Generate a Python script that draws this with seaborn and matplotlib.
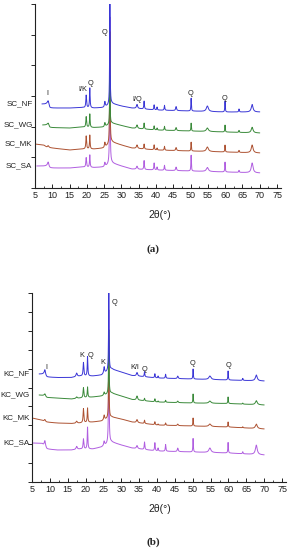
import numpy as np
import pandas as pd
import matplotlib
matplotlib.use("Agg")
import matplotlib.pyplot as plt
import matplotlib.transforms as mtrans
from matplotlib.ticker import MultipleLocator
import seaborn as sns

# ---------------- data ----------------
# Panel (a): SC samples. Intensity in counts (a.u.)
a_samples = ["SC_NF", "SC_WG", "SC_MK", "SC_SA"]
a_start = [7.0, 7.2, 5.0, 5.5]
a_bg_x = {
    "SC_NF": [7.0, 8.4, 9.3, 15, 18.5, 22, 25, 27.2, 30, 33, 40, 50, 60, 70],
    "SC_WG": [7.2, 8.4, 9.3, 15, 18.5, 22, 25, 27.2, 30, 33, 40, 50, 60, 70],
    "SC_MK": [5.0, 7.5, 8.5, 10, 15, 18.5, 22, 25, 27.2, 30, 33, 40, 50, 60, 70],
    "SC_SA": [5.5, 8.3, 9.3, 15, 18.5, 22, 25, 27.2, 30, 33, 40, 50, 60, 70],
}
a_bg_y = {
    "SC_NF": [2738, 2738, 2608, 2608, 2624, 2608, 2624, 2755, 2673, 2608, 2543, 2510, 2478, 2478],
    "SC_WG": [2054, 2054, 1972, 1956, 1989, 1972, 1989, 2119, 2038, 1956, 1891, 1858, 1826, 1793],
    "SC_MK": [1434, 1402, 1320, 1304, 1239, 1271, 1271, 1304, 1500, 1402, 1304, 1239, 1206, 1174, 1141],
    "SC_SA": [717, 717, 652, 652, 685, 668, 685, 815, 717, 619, 587, 554, 522, 489],
}
a_peak_pos = [8.8, 19.8, 20.85, 25.2, 26.65, 34.5, 36.55, 39.45, 40.3, 42.45, 45.8, 50.15, 54.85, 59.95, 64.0, 67.8]
a_peak_w = [0.25, 0.12, 0.10, 0.15, 0.08, 0.2, 0.10, 0.10, 0.10, 0.10, 0.15, 0.08, 0.35, 0.08, 0.10, 0.3]
a_peak_h = {
    "SC_NF": [163, 408, 652, 180, 3400, 130, 260, 163, 98, 163, 130, 424, 180, 359, 98, 245],
    "SC_WG": [98, 342, 440, 130, 1600, 114, 196, 130, 65, 130, 98, 261, 114, 228, 65, 180],
    "SC_MK": [65, 424, 456, 163, 3700, 114, 163, 163, 65, 130, 98, 293, 147, 228, 65, 254],
    "SC_SA": [163, 310, 408, 130, 4865, 98, 293, 228, 98, 163, 114, 522, 130, 326, 65, 320],
}
a_ann_text = ["I", "I/K", "Q", "Q", "I/Q", "Q", "Q"]
a_ann_x = [8.5, 18.7, 21.1, 25.0, 34.5, 50.1, 59.7]
a_ann_y = [3097, 3227, 3423, 5086, 2901, 3097, 2934]

# Panel (b): KC samples
b_samples = ["KC_NF", "KC_WG", "KC_MK", "KC_SA"]
b_start = [7.0, 7.0, 5.0, 5.0]
b_bg_x = {
    "KC_NF": [7.0, 8.2, 9.2, 12, 16, 18.5, 22, 24.5, 27.2, 30, 33, 40, 50, 60, 70],
    "KC_WG": [7.0, 8.2, 9.2, 12, 16, 18.5, 22, 24.5, 27.2, 30, 33, 40, 50, 60, 70],
    "KC_MK": [5.0, 7.5, 9.0, 12, 16, 18.5, 22, 24.5, 27.2, 30, 33, 40, 50, 60, 70],
    "KC_SA": [5.0, 7.8, 9.2, 12, 16, 18.5, 22, 24.5, 27.2, 30, 33, 40, 50, 60, 70],
}
b_bg_y = {
    "KC_NF": [5713, 5713, 5555, 5528, 5528, 5607, 5607, 5660, 5978, 5819, 5634, 5502, 5449, 5396, 5343],
    "KC_WG": [4602, 4576, 4470, 4444, 4391, 4444, 4497, 4549, 4708, 4549, 4364, 4232, 4179, 4153, 4073],
    "KC_MK": [3386, 3280, 3174, 3121, 3095, 3121, 3174, 3227, 3439, 3333, 3174, 3015, 2962, 2910, 2804],
    "KC_SA": [2063, 2037, 1746, 1693, 1693, 1746, 1746, 1852, 2116, 1957, 1799, 1640, 1587, 1534, 1428],
}
b_peak_pos = [8.6, 17.5, 19.4, 20.55, 25.2, 26.5, 34.4, 36.5, 39.4, 40.3, 42.4, 45.8, 50.1, 54.8, 59.9, 64.0, 67.8]
b_peak_w = [0.2, 0.2, 0.12, 0.10, 0.15, 0.08, 0.2, 0.10, 0.10, 0.10, 0.10, 0.15, 0.08, 0.35, 0.08, 0.10, 0.3]
b_peak_h = {
    "KC_NF": [291, 185, 714, 1032, 344, 4300, 185, 265, 212, 106, 212, 132, 529, 185, 476, 106, 307],
    "KC_WG": [132, 79, 529, 555, 159, 3380, 212, 132, 159, 53, 106, 79, 476, 116, 344, 53, 212],
    "KC_MK": [106, 106, 741, 767, 249, 4130, 159, 175, 159, 53, 122, 79, 423, 132, 265, 53, 238],
    "KC_SA": [317, 159, 529, 1164, 227, 7050, 159, 397, 423, 159, 354, 185, 714, 238, 555, 106, 503],
}
b_ann_text = ["I", "K", "Q", "K", "Q", "K/I", "Q", "Q", "Q"]
b_ann_x = [9.1, 19.0, 21.5, 24.9, 28.0, 33.8, 36.6, 49.9, 60.1]
b_ann_y = [6084, 6718, 6718, 6348, 9522, 6084, 5978, 6295, 6189]

colors = ["#3a36d6", "#3a8a3a", "#ad5232", "#b05ee0"]

# ---------------- helpers ----------------
def build_frame(samples, starts, bg_x, bg_y, pos, wid, hts):
    rows = []
    for s, x0 in zip(samples, starts):
        x = np.arange(x0, 70.0001, 0.02)
        y = np.interp(x, bg_x[s], bg_y[s])
        for p, w, h in zip(pos, wid, hts[s]):
            y = y + h / (1.0 + ((x - p) / w) ** 2)
        rows.append(pd.DataFrame({"two_theta": x, "intensity": y, "sample": s}))
    return pd.concat(rows, ignore_index=True)


sns.set_style("ticks")
plt.rcParams["font.family"] = ["Liberation Sans", "DejaVu Sans"]

W, H = 293, 550
fig = plt.figure(figsize=(W / 100, H / 100), dpi=100)


def make_panel(rect_px, ylim, samples, starts, bg_x, bg_y, pos, wid, hts,
               ann_t, ann_x, ann_y, xlabel_px, tag, tag_px):
    l, t, r, b = rect_px
    ax = fig.add_axes([l / W, 1 - b / H, (r - l) / W, (b - t) / H])
    df = build_frame(samples, starts, bg_x, bg_y, pos, wid, hts)
    order = samples[::-1]
    pal = dict(zip(samples, colors))
    sns.lineplot(data=df, x="two_theta", y="intensity", hue="sample",
                 hue_order=order, palette=pal, sort=False, estimator=None,
                 legend=False, linewidth=0.7, ax=ax)
    ax.set_xlim(5, 76)
    ax.set_ylim(*ylim)
    ax.xaxis.set_major_locator(MultipleLocator(5))
    ax.xaxis.set_minor_locator(MultipleLocator(2.5))
    ax.yaxis.set_major_locator(MultipleLocator(1000))
    ax.set_yticklabels([])
    ax.tick_params(axis="x", which="major", direction="in", length=3, width=0.7,
                   labelsize=6.5, pad=2, colors="#222222")
    ax.tick_params(axis="x", which="minor", direction="in", length=1.8, width=0.6)
    ax.tick_params(axis="y", which="major", direction="out", length=3, width=0.7)
    ax.set_xlabel("")
    ax.set_ylabel("")
    for sp in ["top", "right"]:
        ax.spines[sp].set_visible(False)
    for sp in ["left", "bottom"]:
        ax.spines[sp].set_linewidth(0.8)
        ax.spines[sp].set_color("#222222")
    trans = mtrans.blended_transform_factory(ax.transAxes, ax.transData)
    off = mtrans.ScaledTranslation(-2.5 / 100, 0, fig.dpi_scale_trans)
    for s in samples:
        ax.text(0, bg_y[s][0], s, transform=trans + off, ha="right", va="center",
                fontsize=5.8, color="#222222")
    for t_, x_, y_ in zip(ann_t, ann_x, ann_y):
        ax.text(x_, y_, t_, ha="center", va="center", fontsize=5.3, color="#222222")
    fig.text(xlabel_px[0] / W, 1 - xlabel_px[1] / H, "2θ(°)", ha="center",
             va="center", fontsize=7.5, color="#222222")
    fig.text(tag_px[0] / W, 1 - tag_px[1] / H, tag, ha="center", va="center",
             fontsize=8, fontweight="bold", family="Liberation Serif")
    return ax


make_panel((35, 4, 280.5, 188), (0, 6000), a_samples, a_start, a_bg_x, a_bg_y,
           a_peak_pos, a_peak_w, a_peak_h, a_ann_text, a_ann_x, a_ann_y,
           (160, 215), "(a)", (153, 249))
make_panel((32, 293, 285.6, 482), (0, 10000), b_samples, b_start, b_bg_x, b_bg_y,
           b_peak_pos, b_peak_w, b_peak_h, b_ann_text, b_ann_x, b_ann_y,
           (160, 509), "(b)", (153, 542))

fig.savefig("out.png", dpi=100)
